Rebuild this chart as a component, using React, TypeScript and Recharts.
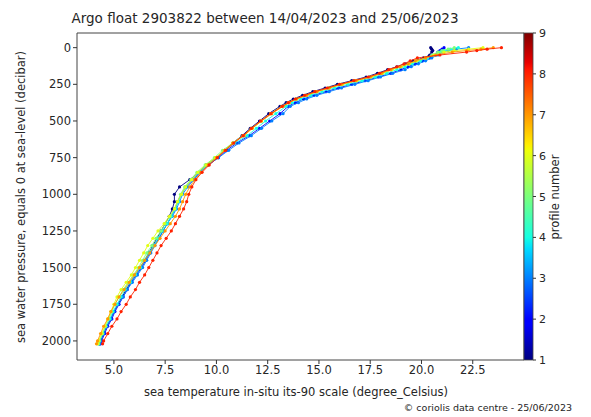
import React from "react";
import { ScatterChart, Scatter, XAxis, YAxis, ReferenceArea } from "recharts";

// pressure levels (decibar) shared by every profile
const pressureLevels = [
  0, 10, 20, 30, 50, 70, 90, 110, 130, 150, 175, 200, 225, 250, 275, 300, 325, 350, 375, 400, 450, 500, 550, 600,
  650, 700, 750, 800, 850, 900, 950, 1000, 1050, 1100, 1150, 1200, 1250, 1300, 1350, 1400, 1450, 1500, 1550, 1600,
  1650, 1700, 1750, 1800, 1850, 1900, 1950, 2000, 2020
];

// temperature (degree Celsius) at each pressure level, one list per profile
const profile1 = [
  20.45, 20.5, 20.55, 20.5,
  20.4, 20.1, 19.6, 19.2, 18.8, 18.35, 17.85, 17.3, 16.6, 15.9, 15.3, 14.7, 14.2, 13.75, 13.4, 13.1, 12.55, 12.1, 11.65, 11.25,
  10.8, 10.4, 10.0, 9.5, 9.15, 8.7, 8.2, 7.95, 7.95, 7.85, 7.7, 7.5, 7.3, 7.1, 6.9, 6.7, 6.5, 6.3, 6.05, 5.8, 5.6, 5.4,
  5.2, 5.0, 4.85, 4.65, 4.5, 4.35, 4.3
];
const profile2 = [
  21.1, 21.0, 20.9, 20.8,
  20.7, 20.4, 20.05, 19.7, 19.35, 19.0, 18.5, 17.9, 17.25, 16.6, 15.95, 15.35, 14.75, 14.25, 13.85, 13.5, 13.1, 12.6, 12.1, 11.6,
  11.0, 10.5, 10.1, 9.6, 9.2, 8.85, 8.5, 8.3, 8.1, 8.0, 7.8, 7.6, 7.4, 7.2, 6.95, 6.75, 6.55, 6.35, 6.1, 5.85, 5.65,
  5.45, 5.25, 5.05, 4.9, 4.7, 4.55, 4.4, 4.35
];
const profile3 = [
  22.3, 21.7, 21.3, 21.0,
  20.8, 20.5, 20.2, 19.85, 19.5, 19.2, 18.6, 18.0, 17.4, 16.75, 16.1, 15.5, 14.9, 14.4, 14.0, 13.6, 13.25, 12.7, 12.2, 11.7,
  11.1, 10.6, 10.1, 9.6, 9.2, 8.9, 8.6, 8.35, 8.2, 8.05, 7.85, 7.6, 7.4, 7.2, 7.0, 6.8, 6.6, 6.4, 6.15, 5.9, 5.65,
  5.45, 5.2, 5.0, 4.85, 4.65, 4.5, 4.35, 4.3
];
const profile4 = [
  21.8, 21.4, 21.1, 20.9,
  20.6, 20.3, 19.95, 19.55, 19.2, 18.8, 18.3, 17.75, 17.1, 16.4, 15.75, 15.15, 14.6, 14.1, 13.7, 13.4, 12.9, 12.4, 11.95, 11.5,
  10.9, 10.4, 10.0, 9.55, 9.15, 8.8, 8.5, 8.3, 8.15, 8.0, 7.8, 7.6, 7.35, 7.15, 6.95, 6.7, 6.5, 6.3, 6.05, 5.8, 5.55,
  5.35, 5.15, 4.95, 4.8, 4.6, 4.45, 4.3, 4.25
];
const profile5 = [
  21.6, 21.3, 21.0, 20.8,
  20.5, 20.2, 19.8, 19.4, 19.0, 18.55, 18.0, 17.45, 16.75, 16.05, 15.45, 14.85, 14.35, 13.9, 13.5, 13.2, 12.65, 12.2, 11.7, 11.3,
  10.8, 10.3, 9.9, 9.45, 9.05, 8.75, 8.45, 8.25, 8.1, 7.95, 7.75, 7.5, 7.3, 7.05, 6.85, 6.6, 6.4, 6.2, 5.95, 5.7, 5.45,
  5.25, 5.05, 4.9, 4.75, 4.6, 4.45, 4.3, 4.25
];
const profile6 = [
  23.0, 22.3, 21.6, 21.1,
  20.6, 20.2, 19.75, 19.4, 19.0, 18.55, 18.1, 17.55, 16.85, 16.15, 15.5, 14.9, 14.4, 13.9, 13.55, 13.2, 12.65, 12.2, 11.75, 11.3,
  10.8, 10.4, 9.95, 9.5, 9.1, 8.8, 8.5, 8.3, 8.1, 7.95, 7.7, 7.45, 7.15, 6.9, 6.65, 6.45, 6.25, 6.05, 5.85, 5.6, 5.35,
  5.15, 5.0, 4.85, 4.7, 4.55, 4.4, 4.25, 4.2
];
const profile7 = [
  23.5, 22.9, 22.2, 21.5,
  20.7, 20.2, 19.7, 19.35, 18.95, 18.5, 18.05, 17.5, 16.8, 16.1, 15.5, 14.9, 14.4, 13.9, 13.55, 13.25, 12.7, 12.2, 11.75, 11.35,
  10.8, 10.4, 10.0, 9.6, 9.25, 8.95, 8.7, 8.5, 8.35, 8.2, 8.0, 7.75, 7.5, 7.25, 7.0, 6.75, 6.5, 6.25, 6.0, 5.75, 5.5,
  5.25, 5.05, 4.85, 4.7, 4.5, 4.35, 4.2, 4.15
];
const profile8 = [
  23.9, 23.2, 22.7, 22.2,
  20.9, 19.8, 19.45, 19.15, 18.8, 18.4, 17.95, 17.4, 16.7, 16.0, 15.4, 14.8, 14.3, 13.85, 13.5, 13.2, 12.65, 12.15, 11.7, 11.3,
  10.85, 10.45, 10.05, 9.65, 9.3, 9.0, 8.8, 8.65, 8.55, 8.4, 8.2, 8.0, 7.8, 7.55, 7.3, 7.1, 6.9, 6.7, 6.5, 6.25, 6.05,
  5.8, 5.6, 5.35, 5.15, 4.9, 4.7, 4.5, 4.45
];

const profiles = [profile1, profile2, profile3, profile4, profile5, profile6, profile7, profile8];
const profileNumbers = [1, 2, 3, 4, 5, 6, 7, 8];

const xTicks = [5, 7.5, 10, 12.5, 15, 17.5, 20, 22.5];
const yTicks = [0, 250, 500, 750, 1000, 1250, 1500, 1750, 2000];
const colorbarTicks = [1, 2, 3, 4, 5, 6, 7, 8, 9];

// jet colormap sampled at (n - 1) / 8
const jetColors = ["#000080", "#0000ff", "#0080ff", "#14ffe2", "#7bff7b", "#e2ff14", "#ff9700", "#ff2100"];
const jetStops: [number, string][] = [
  [0, "#000080"], [0.11, "#0000ff"], [0.125, "#0000ff"], [0.34, "#00dbff"], [0.375, "#14ffe2"],
  [0.64, "#eeff08"], [0.66, "#ffec00"], [0.89, "#ff1300"], [0.91, "#e80000"], [1, "#800000"]
];

const W = 591;
const H = 417;
const plot = { left: 77, top: 33, right: 524, bottom: 360 };
const font = "DejaVu Sans, sans-serif";
const textColor = "#262626";

export default function App() {
  const cbX = plot.right;
  const cbW = 9;
  const cbH = plot.bottom - plot.top;

  return (
    <div style={{ position: "absolute", left: 0, top: 0, width: W, height: H, background: "#fff", fontFamily: font }}>
      <ScatterChart
        width={W}
        height={H}
        margin={{ top: plot.top, left: plot.left - 40, right: W - plot.right, bottom: H - plot.bottom - 30 }}
      >
        <XAxis
          type="number"
          dataKey="t"
          domain={[3.2, 25.0]}
          allowDataOverflow
          ticks={xTicks}
          interval={0}
          height={30}
          tickFormatter={(v: number) => v.toFixed(1)}
          axisLine={false}
          tickLine={{ stroke: "#333" }}
          tickSize={4}
          tick={{ fill: textColor, fontSize: 11.5, fontFamily: font }}
        />
        <YAxis
          type="number"
          dataKey="p"
          reversed
          domain={[-100, 2130]}
          allowDataOverflow
          ticks={yTicks}
          interval={0}
          width={40}
          axisLine={false}
          tickLine={{ stroke: "#333" }}
          tickSize={4}
          tick={{ fill: textColor, fontSize: 11.5, fontFamily: font }}
        />
        {profiles.map((temps, i) => (
          <Scatter
            key={profileNumbers[i]}
            data={pressureLevels.map((p, j) => ({ p, t: temps[j] }))}
            line={{ stroke: jetColors[i], strokeWidth: 0.9 }}
            shape={(props: any) => <circle cx={props.cx} cy={props.cy} r={1.6} fill={jetColors[i]} />}
            isAnimationActive={false}
          />
        ))}
        <ReferenceArea x1={3.2} x2={25.0} y1={-100} y2={2130} fill="none" stroke="#444" strokeWidth={1} ifOverflow="extendDomain" />
      </ScatterChart>

      <svg width={W} height={H} style={{ position: "absolute", left: 0, top: 0, pointerEvents: "none" }}>
        <defs>
          <linearGradient id="jetBar" x1="0" x2="0" y1="1" y2="0">
            {jetStops.map(([o, c]) => (
              <stop key={o} offset={o} stopColor={c} />
            ))}
          </linearGradient>
        </defs>
        <text x={265} y={23} textAnchor="middle" fontSize={13.5} fill={textColor} fontFamily={font}>
          Argo float 2903822 between 14/04/2023 and 25/06/2023
        </text>
        <text x={296} y={396} textAnchor="middle" fontSize={11.5} fill={textColor} fontFamily={font}>
          sea temperature in-situ its-90 scale (degree_Celsius)
        </text>
        <text
          x={25}
          y={197}
          textAnchor="middle"
          fontSize={11.5}
          fill={textColor}
          fontFamily={font}
          transform="rotate(-90 25 197)"
        >
          sea water pressure, equals 0 at sea-level (decibar)
        </text>
        <rect x={cbX} y={plot.top} width={cbW} height={cbH} fill="url(#jetBar)" stroke="#444" strokeWidth={0.8} />
        {colorbarTicks.map((v) => {
          const y = plot.bottom - ((v - 1) / 8) * cbH;
          return (
            <g key={v}>
              <line x1={cbX + cbW} x2={cbX + cbW + 3} y1={y} y2={y} stroke="#333" />
              <text x={cbX + cbW + 6} y={y + 4} fontSize={11} fill={textColor} fontFamily={font}>
                {v}
              </text>
            </g>
          );
        })}
        <text
          x={559}
          y={197}
          textAnchor="middle"
          fontSize={11.5}
          fill={textColor}
          fontFamily={font}
          transform="rotate(-90 559 197)"
        >
          profile number
        </text>
        <text x={572} y={411} textAnchor="end" fontSize={9.5} fill={textColor} fontFamily={font}>
          © coriolis data centre - 25/06/2023
        </text>
      </svg>
    </div>
  );
}
